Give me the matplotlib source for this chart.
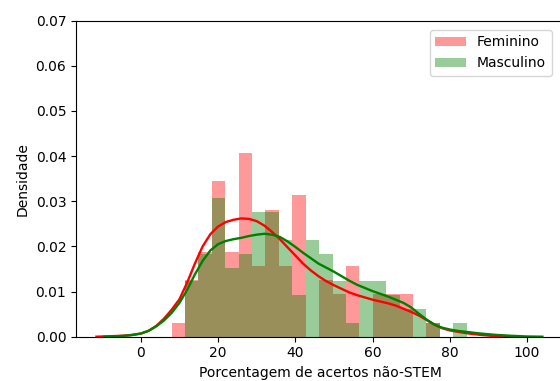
import numpy as np
import matplotlib
matplotlib.use("Agg")
import matplotlib.pyplot as plt

# histogram bins (shared grid) and counts per bin
bin_start = 7.96
bin_width = 3.474
fem_counts = [1, 4, 6, 11, 6, 13, 5, 9, 5, 10, 0, 4, 3, 5, 0, 3, 3, 3, 0, 1, 0, 0]
masc_counts = [0, 4, 6, 10, 5, 6, 9, 9, 7, 3, 7, 6, 4, 1, 4, 4, 3, 2, 2, 1, 0, 1]

# kde curves
fem_kde_x = [-11.5, -8, -5, -2, 0, 2, 4, 6, 8, 10, 12, 14, 16, 18, 20, 22, 24, 26, 28,
             30, 32, 34, 36, 38, 40, 42, 44, 46, 48, 50, 52, 54, 56, 58, 60, 62, 64,
             66, 68, 70, 72, 74, 76, 78, 80, 82, 85, 88, 92, 96]
fem_kde_y = [0.0, 0.0001, 0.0002, 0.0004, 0.0007, 0.0013, 0.0024, 0.0040, 0.0060, 0.0083,
             0.0120, 0.0162, 0.0200, 0.0227, 0.0244, 0.0254, 0.0259, 0.0262, 0.0261,
             0.0256, 0.0246, 0.0232, 0.0216, 0.0198, 0.0180, 0.0162, 0.0147, 0.0134,
             0.0123, 0.0114, 0.0106, 0.0098, 0.0092, 0.0087, 0.0082, 0.0078, 0.0074,
             0.0069, 0.0062, 0.0055, 0.0047, 0.0037, 0.0027, 0.0019, 0.0014, 0.0011,
             0.0007, 0.0004, 0.0001, 0.0]
masc_kde_x = [-9.5, -6, -3, 0, 2, 4, 6, 8, 10, 12, 14, 16, 18, 20, 22, 24, 26, 28, 30,
              32, 34, 36, 38, 40, 42, 44, 46, 48, 50, 52, 54, 56, 58, 60, 62, 64, 66,
              68, 70, 72, 74, 76, 78, 80, 82, 85, 88, 92, 96, 100, 104]
masc_kde_y = [0.0, 0.0001, 0.0003, 0.0007, 0.0013, 0.0023, 0.0036, 0.0053, 0.0075,
              0.0104, 0.0138, 0.0168, 0.0191, 0.0205, 0.0212, 0.0216, 0.0219, 0.0223,
              0.0226, 0.0228, 0.0226, 0.0221, 0.0211, 0.0199, 0.0186, 0.0174, 0.0162,
              0.0153, 0.0144, 0.0134, 0.0124, 0.0115, 0.0108, 0.0101, 0.0095, 0.0089,
              0.0082, 0.0075, 0.0065, 0.0051, 0.0038, 0.0027, 0.0020, 0.0016, 0.0013,
              0.0010, 0.0007, 0.0004, 0.0002, 0.00005, 0.0]

edges = bin_start + bin_width * np.arange(len(fem_counts) + 1)
centers = (edges[:-1] + edges[1:]) / 2

fig = plt.figure(figsize=(5.6, 3.81), dpi=100)
ax = fig.add_axes([76 / 560, 44.3 / 381, 488 / 560, 316 / 381])

ax.hist(centers, bins=edges, weights=fem_counts, density=True, color='red', alpha=0.4, label='Feminino')
ax.plot(fem_kde_x, fem_kde_y, color='red', lw=1.7)
ax.hist(centers, bins=edges, weights=masc_counts, density=True, color='green', alpha=0.4, label='Masculino')
ax.plot(masc_kde_x, masc_kde_y, color='green', lw=1.7)

ax.set_xlim(-16.8, 109.6)
ax.set_ylim(0, 0.07)
ax.set_xticks([0, 20, 40, 60, 80, 100])
ax.set_yticks(np.arange(0, 0.071, 0.01))
ax.set_xlabel('Porcentagem de acertos não-STEM')
ax.set_ylabel('Densidade')
ax.legend(loc='upper right', bbox_to_anchor=(0.989, 0.993), handlelength=2.2)

fig.savefig('out.png', dpi=100)
